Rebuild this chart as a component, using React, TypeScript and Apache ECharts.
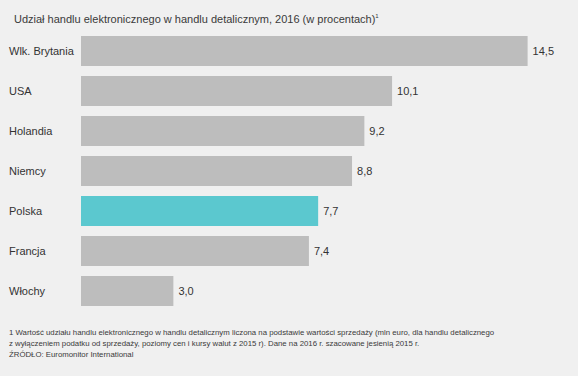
import React, { useEffect, useRef } from "react";
import * as echarts from "echarts";

const categories = ["Wlk. Brytania", "USA", "Holandia", "Niemcy", "Polska", "Francja", "Włochy"];
const values = [14.5, 10.1, 9.2, 8.8, 7.7, 7.4, 3.0];
const highlight = "Polska";
const title = "Udział handlu elektronicznego w handlu detalicznym, 2016 (w procentach)";
const footnotes = [
  "1 Wartość udziału handlu elektronicznego w handlu detalicznym liczona na podstawie wartości sprzedaży (mln euro, dla handlu detalicznego",
  "z wyłączeniem podatku od sprzedaży, poziomy cen i kursy walut z 2015 r). Dane na 2016 r. szacowane jesienią 2015 r.",
  "ŹRÓDŁO: Euromonitor International",
];

export default function App() {
  const ref = useRef<HTMLDivElement>(null);
  useEffect(() => {
    const chart = echarts.init(ref.current!, null, { renderer: "svg" });
    const font = "Liberation Sans, Arial, Helvetica, sans-serif";
    chart.setOption({
      animation: false,
      backgroundColor: "#f0f0f0",
      textStyle: { fontFamily: font },
      title: {
        text: "{t|" + title + "}{s|1}",
        left: 9,
        top: 8,
        textStyle: {
          fontWeight: "normal",
          rich: {
            t: { fontSize: 11, color: "#3a3a3a", fontFamily: font, fontWeight: "normal" },
            s: { fontSize: 6, color: "#3a3a3a", fontFamily: font, fontWeight: "normal", verticalAlign: "top", padding: [0, 0, 5, 0] },
          },
        },
      },
      graphic: footnotes.map((line, i) => ({
        type: "text",
        left: 9,
        top: 328 + i * 11.3,
        style: { text: line, fontSize: 7.8, fill: "#3a3a3a", fontFamily: font },
      })),
      grid: { left: 81, top: 31, height: 280, width: 462 },
      xAxis: {
        type: "value",
        min: 0,
        max: 15,
        show: false,
      },
      yAxis: {
        type: "category",
        inverse: true,
        data: categories,
        axisLine: { show: false },
        axisTick: { show: false },
        axisLabel: {
          align: "left",
          margin: 72,
          fontSize: 11,
          color: "#333",
          fontFamily: font,
        },
      },
      series: [
        {
          type: "bar",
          barWidth: 30,
          data: values.map((v, i) => ({
            value: v,
            itemStyle: { color: categories[i] === highlight ? "#5bc8cf" : "#bdbdbd" },
          })),
          label: {
            show: true,
            position: "right",
            distance: 5,
            fontSize: 11,
            color: "#333",
            fontFamily: font,
            formatter: (p: any) => p.value.toFixed(1).replace(".", ","),
          },
        },
      ],
    });
    return () => chart.dispose();
  }, []);
  return <div ref={ref} style={{ width: 578, height: 376, position: "fixed", left: 0, top: 0 }} />;
}
